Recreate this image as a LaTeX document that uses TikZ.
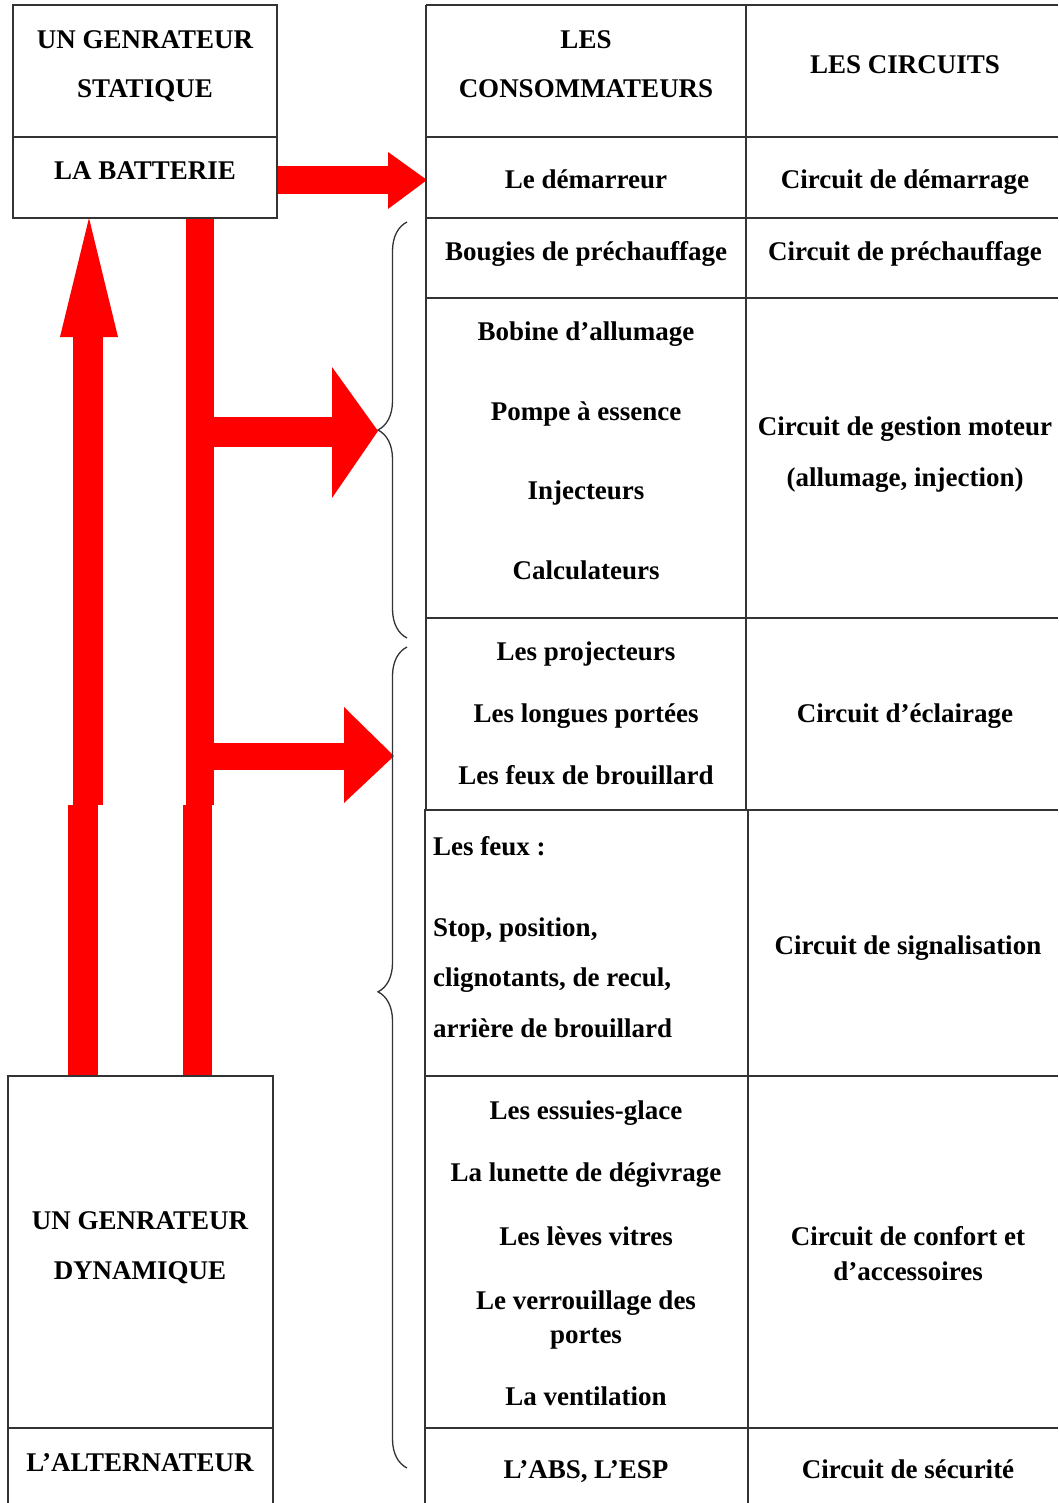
\documentclass[tikz,border=0pt]{standalone}
\usepackage{fontspec}
\setmainfont{Liberation Serif}
\usetikzlibrary{decorations.pathreplacing}
\definecolor{rulegray}{HTML}{333333}
\definecolor{flowred}{HTML}{FF0000}
\begin{document}
\begin{tikzpicture}[x=1pt,y=-1pt,
  rule/.style={draw=rulegray,line width=1.6pt},
  flow/.style={fill=flowred,draw=none},
  lbl/.style={inner sep=0pt,anchor=base,font=\fontsize{27}{30}\selectfont\bfseries},
  lbll/.style={lbl,anchor=base west},
  bracestyle/.style={draw=rulegray,line width=1.3pt,decorate,
    decoration={brace,amplitude=29pt}}]
\useasboundingbox (0,0) rectangle (1058,1503);

% ---- power flow (red block arrows) ----
% alternator -> battery
\fill[flow] (68,805) rectangle (98,1076);
\fill[flow] (73,337) rectangle (103,805);
\fill[flow] (60,337) -- (118,337) -- (89,218) -- cycle;
% battery -> starter
\fill[flow] (277,166) rectangle (389,194);
\fill[flow] (388,152) -- (388,209) -- (427,180) -- cycle;
% distribution bus
\fill[flow] (183,805) rectangle (212,1076);
\fill[flow] (186,218) rectangle (214,805);
\fill[flow] (186,417) rectangle (333,447);
\fill[flow] (332,367) -- (332,498) -- (378,431) -- cycle;
\fill[flow] (213,743) rectangle (345,770);
\fill[flow] (344,707) -- (344,803) -- (394,756) -- cycle;

% ---- static generator box ----
\draw[rule] (13,5) rectangle (277,218);
\draw[rule] (13,137) -- (277,137);
\node[lbl] (gs1) at (145,49) {UN GENRATEUR};
\node[lbl] (gs2) at (145,98) {STATIQUE};
\node[lbl] (batt) at (145,180) {LA BATTERIE};

% ---- dynamic generator box ----
\draw[rule] (8,1503) -- (8,1076) -- (273,1076) -- (273,1503);
\draw[rule] (8,1428) -- (273,1428);
\node[lbl] (gd1) at (140,1229) {UN GENRATEUR};
\node[lbl] (gd2) at (140,1279) {DYNAMIQUE};
\node[lbl] (alt) at (140,1471) {L’ALTERNATEUR};

% ---- table grid ----
\draw[rule] (426,5) -- (1058,5);
\foreach \yy in {137,218,298,618} \draw[rule] (426,\yy) -- (1058,\yy);
\draw[rule] (424,810) -- (1058,810);
\foreach \yy in {1076,1428} \draw[rule] (424,\yy) -- (1058,\yy);
\draw[rule] (426,5) -- (426,810);
\draw[rule] (746,5) -- (746,810);
\draw[rule] (425,810) -- (425,1503);
\draw[rule] (748,810) -- (748,1503);

% ---- braces ----
\draw[bracestyle] (407,638) -- (407,222);
\draw[bracestyle,decoration={aspect=0.58}] (407,1468) -- (407,647);

% ---- headers ----
\node[lbl] (h1a) at (586,49) {LES};
\node[lbl] (h1b) at (586,98) {CONSOMMATEURS};
\node[lbl] (h2) at (905,74) {LES CIRCUITS};

% ---- consumers ----
\node[lbl] (c01) at (586,189) {Le démarreur};
\node[lbl] (c02) at (586,261) {Bougies de préchauffage};
\node[lbl] (c03) at (586,340) {Bobine d’allumage};
\node[lbl] (c04) at (586,420) {Pompe à essence};
\node[lbl] (c05) at (586,499) {Injecteurs};
\node[lbl] (c06) at (586,579) {Calculateurs};
\node[lbl] (c07) at (586,660) {Les projecteurs};
\node[lbl] (c08) at (586,722) {Les longues portées};
\node[lbl] (c09) at (586,784) {Les feux de brouillard};
\node[lbll] (c10) at (433,855) {Les feux :};
\node[lbll] (c11) at (433,936) {Stop, position,};
\node[lbll] (c12) at (433,986) {clignotants, de recul,};
\node[lbll] (c13) at (433,1037) {arrière de brouillard};
\node[lbl] (c14) at (586,1119) {Les essuies-glace};
\node[lbl] (c15) at (586,1181) {La lunette de dégivrage};
\node[lbl] (c16) at (586,1245) {Les lèves vitres};
\node[lbl] (c17) at (586,1309) {Le verrouillage des};
\node[lbl] (c18) at (586,1343) {portes};
\node[lbl] (c19) at (586,1405) {La ventilation};
\node[lbl] (c20) at (586,1478) {L’ABS, L’ESP};

% ---- circuits ----
\node[lbl] (k1) at (905,189) {Circuit de démarrage};
\node[lbl] (k2) at (905,261) {Circuit de préchauffage};
\node[lbl] (k3) at (905,435) {Circuit de gestion moteur};
\node[lbl] (k4) at (905,486) {(allumage, injection)};
\node[lbl] (k5) at (905,722) {Circuit d’éclairage};
\node[lbl] (k6) at (908,954) {Circuit de signalisation};
\node[lbl] (k7) at (908,1245) {Circuit de confort et};
\node[lbl] (k8) at (908,1280) {d’accessoires};
\node[lbl] (k9) at (908,1478) {Circuit de sécurité};
\end{tikzpicture}
\end{document}
